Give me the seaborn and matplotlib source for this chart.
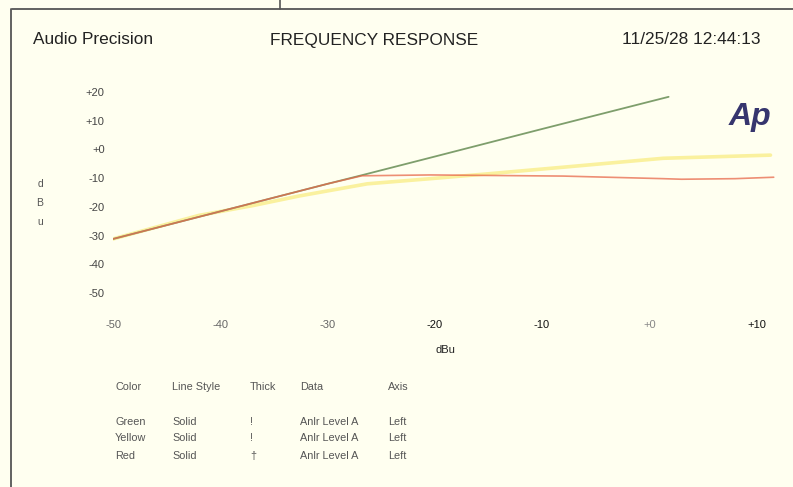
import seaborn as sns
import numpy as np
import pandas as pd
import matplotlib.pyplot as plt
from matplotlib.lines import Line2D

# values (dBu in -> dBu out)
green_x = [-50, -40, -30, -26.8, -20, -10, 0, 1.8]
green_y = [-31.2, -21.6, -12.0, -9.0, -2.5, 7.1, 16.6, 18.3]

yellow_x = [-50, -42, -37, -32.6, -26.3, -20.4, -15, -8, 1.3, 11.3]
yellow_y = [-31.2, -23.0, -19.6, -16.2, -12.0, -10.2, -8.5, -6.2, -3.1, -2.0]

red_x = [-50, -40, -30, -26.8, -20.4, -8, 1.3, 3, 8, 11.6]
red_y = [-31.2, -21.6, -12.0, -9.2, -8.9, -9.3, -10.2, -10.4, -10.2, -9.7]

x_ticks = [-50, -40, -30, -20, -10, 0, 10]
x_labels = ['-50', '-40', '-30', '-20', '-10', '+0', '+10']
x_label_colors = ['#666666', '#666666', '#666666', '#111111', '#111111', '#888888', '#111111']
y_ticks = [20, 10, 0, -10, -20, -30, -40, -50]
y_labels = ['+20', '+10', '+0', '-10', '-20', '-30', '-40', '-50']

legend_header = ['Color', 'Line Style', 'Thick', 'Data', 'Axis']
legend_rows = [['Green', 'Solid', '!', 'Anlr Level A', 'Left'],
               ['Yellow', 'Solid', '!', 'Anlr Level A', 'Left'],
               ['Red', 'Solid', '†', 'Anlr Level A', 'Left']]

bg = '#FFFFF0'
sns.set_style('white')
plt.rcParams['font.family'] = ['Liberation Sans', 'DejaVu Sans']

W, H = 793, 487
fig = plt.figure(figsize=(W / 100, H / 100), dpi=100, facecolor=bg)
ax = fig.add_axes([113 / W, 1 - 307.3 / H, 665 / W, 229.7 / H], facecolor=bg)

yellow = pd.DataFrame({'x': yellow_x, 'y': yellow_y})
green = pd.DataFrame({'x': green_x, 'y': green_y})
red = pd.DataFrame({'x': red_x, 'y': red_y})

sns.lineplot(data=yellow, x='x', y='y', color='#FAF19E', lw=2.6, ax=ax, sort=False)
sns.lineplot(data=green, x='x', y='y', color='#7E9E6C', lw=1.3, ax=ax, sort=False)
sns.lineplot(data=red, x='x', y='y', color='#E8684A', lw=1.2, alpha=0.75, ax=ax, sort=False)

ax.set_xlim(-50, 12)
ax.set_ylim(-55, 25)
ax.set_xticks(x_ticks)
ax.set_xticklabels(x_labels, fontsize=8)
for lab, c in zip(ax.get_xticklabels(), x_label_colors):
    lab.set_color(c)
ax.set_yticks(y_ticks)
ax.set_yticklabels(y_labels, fontsize=8, color='#444444')
ax.tick_params(axis='x', length=0, pad=9)
ax.tick_params(axis='y', length=0, pad=6)
ax.set_xlabel('dBu', fontsize=8, color='#222222', labelpad=11)
ax.set_ylabel('')
sns.despine(ax=ax, left=True, bottom=True)

# stacked y label
fig.text(40 / W, 1 - 203 / H, 'd\nB\nu', fontsize=7.5, color='#555555',
         ha='center', va='center', linespacing=2.1)

# header
fig.text(33 / W, 1 - 40 / H, 'Audio Precision', fontsize=12.4, color='#222222', va='center')
fig.text(270 / W, 1 - 40 / H, 'FREQUENCY RESPONSE', fontsize=12.4, color='#222222', va='center')
fig.text(622 / W, 1 - 40 / H, '11/25/28 12:44:13', fontsize=12.4, color='#222222', va='center')

# Ap logo
fig.text(729 / W, 1 - 117 / H, 'Ap', fontsize=23, color='#36356E', fontweight='bold',
         fontstyle='italic', va='center')

# legend table
col_x = [115, 172, 250, 300, 388]
for cx, h in zip(col_x, legend_header):
    fig.text(cx / W, 1 - 387 / H, h, fontsize=7.8, color='#555555', va='center')
for ry, row in zip([422, 438, 456], legend_rows):
    for cx, t in zip(col_x, row):
        fig.text(cx / W, 1 - ry / H, t, fontsize=7.8, color='#555555', va='center')

# border of the scanned page
fig.add_artist(Line2D([12 / W, 1], [1 - 9 / H, 1 - 9 / H], color='#555555', lw=1.3))
fig.add_artist(Line2D([11 / W, 11 / W], [0, 1 - 9 / H], color='#555555', lw=1.3))
fig.add_artist(Line2D([280 / W, 280 / W], [1 - 9 / H, 1], color='#555555', lw=1.2))

fig.savefig('out.png', dpi=100, facecolor=bg)
